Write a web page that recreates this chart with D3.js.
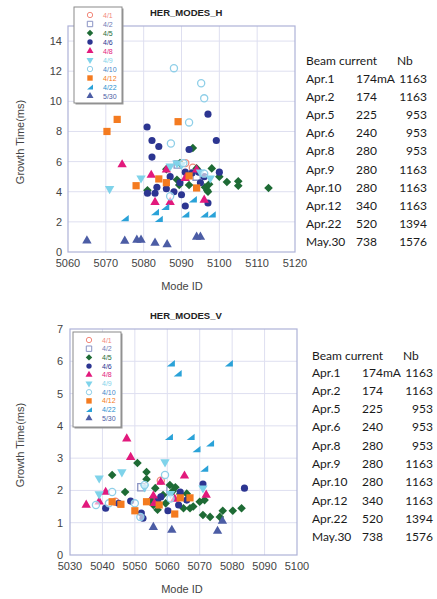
<!DOCTYPE html>
<html>
<head>
<meta charset="utf-8">
<script src="https://d3js.org/d3.v7.min.js"></script>
<style>
  body { margin: 0; background: #fff; }
  svg { display: block; }
</style>
</head>
<body>
<div id="chart"></div>
<script>
// series (legend order)
const seriesNames = ["4/1", "4/2", "4/5", "4/6", "4/8", "4/9", "4/10", "4/12", "4/22", "5/30"];

// HER_MODES_H : [mode id, growth time ms]
const H_0401 = [[5091, 5.9], [5093, 5.6]];
const H_0402 = [[5089, 5.8], [5094, 5.0]];
const H_0405 = [[5081, 4.1], [5086, 5.5], [5088.8, 4.8], [5089.4, 4.45], [5089.6, 5.9], [5092, 4.45], [5093, 6.9], [5094, 5.55], [5096.2, 4.3], [5096.8, 4.1], [5097.3, 4.5], [5097, 4.0], [5098, 5.55], [5100, 5.0], [5102, 4.65], [5105, 4.7], [5105, 4.4], [5113, 4.25]];
const H_0406 = [[5080.9, 8.3], [5082.2, 7.4], [5084, 7.0], [5082.2, 6.3], [5092, 6.8], [5097, 9.15], [5099.2, 7.4], [5094.6, 5.3], [5100, 5.3], [5081, 3.9], [5083, 3.9], [5083.5, 4.3], [5087, 5.0], [5086, 4.2], [5089.6, 4.6], [5090, 3.8], [5091, 3.05], [5097, 3.25], [5095, 4.6], [5096, 5.0], [5091, 5.3], [5088, 4.0], [5092.8, 5.25]];
const H_0408 = [[5074.3, 5.8], [5082, 5.1], [5083, 3.3], [5086, 5.45], [5087, 3.3], [5094, 5.45], [5096, 3.45], [5091, 4.9]];
const H_0409 = [[5071, 4.2], [5079.3, 4.9], [5088.8, 5.9], [5090, 5.8], [5087, 5.7], [5095, 5.3], [5097.6, 4.9]];
const H_0410 = [[5088, 12.2], [5095.2, 11.2], [5096, 10.2], [5092, 8.6], [5087.2, 7.2], [5090.5, 5.9], [5096, 5.2], [5087, 3.7]];
const H_0412 = [[5070.3, 8.0], [5073, 8.8], [5089.1, 8.65], [5078, 4.4], [5084, 4.85], [5086, 4.6], [5092, 5.05], [5094, 4.25]];
const H_0422 = [[5075, 2.25], [5083, 2.65], [5084, 2.2], [5085.7, 3.0], [5091, 2.5], [5093, 3.5], [5096, 2.5], [5098, 2.5]];
const H_0530 = [[5065, 0.75], [5075, 0.73], [5078.2, 0.8], [5079.3, 0.8], [5083, 0.6], [5086.2, 0.5], [5094, 1.0], [5095, 1.0]];

// HER_MODES_V
const V_0401 = [[5044, 1.65], [5058, 2.3]];
const V_0402 = [[5052, 2.1], [5061, 2.0]];
const V_0405 = [[5043, 2.48], [5047, 1.95], [5050.8, 2.85], [5053.6, 2.57], [5053.6, 2.35], [5056.3, 2.07], [5058.7, 1.86], [5055.7, 1.55], [5057, 1.4], [5060.8, 2.17], [5061.7, 1.98], [5062.5, 2.1], [5064, 1.89], [5065, 1.45], [5067, 1.45], [5068, 1.5], [5070, 1.65], [5071, 1.24], [5073.2, 1.18], [5076.2, 1.18], [5077.1, 1.37], [5080.2, 1.37], [5082.9, 1.45], [5066, 1.9], [5071.5, 1.7], [5055, 1.7], [5059.5, 1.6]];
const V_0406 = [[5041, 1.45], [5048.7, 1.67], [5052, 1.3], [5052.5, 1.14], [5057, 1.7], [5060.2, 1.37], [5064, 1.95], [5063.5, 1.55], [5071, 2.2], [5083.8, 2.07], [5045, 1.6], [5066, 1.7], [5058, 1.8]];
const V_0408 = [[5035, 1.55], [5039, 1.65], [5041, 1.95], [5047.5, 3.6], [5048.7, 3.03], [5055.7, 1.83], [5058, 2.26], [5062.3, 1.73], [5065.3, 2.45], [5072, 1.86], [5056, 1.6]];
const V_0409 = [[5039, 2.38], [5039, 1.89], [5046, 2.57], [5059.3, 2.88], [5053, 2.1], [5071, 2.07], [5061, 1.9]];
const V_0410 = [[5038, 1.55], [5042, 1.6], [5043, 1.95], [5050, 1.6], [5051.7, 1.18], [5053, 2.17], [5059.3, 2.48], [5061, 1.75]];
const V_0412 = [[5043, 1.65], [5045.7, 1.57], [5050, 1.37], [5053.6, 1.65], [5057.5, 1.55], [5062.3, 1.27], [5064, 1.77], [5067, 1.77]];
const V_0422 = [[5061.1, 5.94], [5063.2, 5.63], [5079, 5.94], [5060.5, 3.66], [5067.2, 3.66], [5069, 3.28], [5073.2, 3.46], [5071.4, 2.68]];
const V_0530 = [[5055.7, 0.86], [5061.4, 0.77], [5077, 1.05], [5075.5, 0.74]];

// axis ticks
const hXTicks = [5060, 5070, 5080, 5090, 5100, 5110, 5120];
const hYTicks = [0, 2, 4, 6, 8, 10, 12, 14];
const vXTicks = [5030, 5040, 5050, 5060, 5070, 5080, 5090, 5100];
const vYTicks = [0, 1, 2, 3, 4, 5, 6, 7];

// side table
const tableDates = ["Apr.1", "Apr.2", "Apr.5", "Apr.6", "Apr.8", "Apr.9", "Apr.10", "Apr.12", "Apr.22", "May.30"];
const tableCurrent = ["174mA", "174", "225", "240", "280", "280", "280", "340", "520", "738"];
const tableNb = ["1163", "1163", "953", "953", "953", "1163", "1163", "1163", "1394", "1576"];

// marker styles
const seriesColors = ["#f2897c", "#8a93c4", "#1e6b35", "#2c3591", "#e2197c", "#7fd3ea", "#8fcfe8", "#f47b20", "#2aa2d8", "#4c5da5"];
const labelColors = ["#f2897c", "#6f79b5", "#1e6b35", "#2c3591", "#e2197c", "#7fd3ea", "#3f86c8", "#f47b20", "#2a8fd0", "#4c5da5"];
const markerShape = ["circle", "square", "diamond", "circle", "triangle", "triangleDown", "circle", "square", "wedge", "triangle"];
const markerOpen = [true, true, false, false, false, false, true, false, false, false];

const width = 437, height = 599;
const svg = d3.select("#chart").append("svg")
    .attr("width", width)
    .attr("height", height);

function markerPath(i, k) {
    const shape = markerShape[i];
    if (shape === "wedge") {
        const s = 4 * k;
        return `M${-s},${s * 0.8}L${s},${s * 0.8}L${s},${-s * 0.8}Z`;
    }
    if (shape === "diamond") {
        const s = 4.3 * k;
        return `M0,${-s}L${s},0L0,${s}L${-s},0Z`;
    }
    const types = {
        circle: [d3.symbolCircle, 40],
        square: [d3.symbolSquare, 52],
        triangle: [d3.symbolTriangle, 38],
        triangleDown: [d3.symbolTriangle, 38]
    };
    const t = types[shape];
    return d3.symbol().type(t[0]).size(t[1] * k * k)();
}

function drawPanel({ title, left, right, top, bottom, xDomain, yDomain, xTicks, yTicks, series, legend, tableX, tableY, labelGap }) {
    const x = d3.scaleLinear().domain(xDomain).range([left, right]);
    const y = d3.scaleLinear().domain(yDomain).range([bottom, top]);
    const g = svg.append("g");

    // grid
    g.append("g").selectAll("line")
        .data(xTicks.slice(1, -1))
        .enter().append("line")
        .attr("x1", d => x(d)).attr("x2", d => x(d))
        .attr("y1", top).attr("y2", bottom)
        .attr("stroke", "#dedff0").attr("stroke-width", 1);
    g.append("g").selectAll("line")
        .data(yTicks.slice(1).filter(d => y(d) > top + 1))
        .enter().append("line")
        .attr("x1", left).attr("x2", right)
        .attr("y1", d => y(d)).attr("y2", d => y(d))
        .attr("stroke", "#dedff0").attr("stroke-width", 1);

    g.append("rect")
        .attr("x", left).attr("y", top)
        .attr("width", right - left).attr("height", bottom - top)
        .attr("fill", "none")
        .attr("stroke", "#aeb2d8").attr("stroke-width", 1.2);

    // tick labels
    g.append("g").selectAll("text")
        .data(xTicks)
        .enter().append("text")
        .attr("x", d => x(d))
        .attr("y", bottom + 15)
        .attr("text-anchor", "middle")
        .attr("font-family", "Liberation Sans, Arial, sans-serif")
        .attr("font-size", "11px")
        .attr("fill", "#444")
        .text(d => d);
    g.append("g").selectAll("text")
        .data(yTicks)
        .enter().append("text")
        .attr("x", left - labelGap)
        .attr("y", d => y(d) + 4)
        .attr("text-anchor", "end")
        .attr("font-family", "Liberation Sans, Arial, sans-serif")
        .attr("font-size", "11px")
        .attr("fill", "#444")
        .text(d => d);

    g.append("text")
        .attr("x", 182).attr("y", bottom + 38)
        .attr("text-anchor", "middle")
        .attr("font-family", "Liberation Sans, Arial, sans-serif")
        .attr("font-size", "11px")
        .attr("fill", "#444")
        .text("Mode ID");
    g.append("text")
        .attr("transform", `translate(24, ${(top + bottom) / 2 + 3}) rotate(-90)`)
        .attr("text-anchor", "middle")
        .attr("font-family", "Liberation Sans, Arial, sans-serif")
        .attr("font-size", "11px")
        .attr("fill", "#444")
        .text("Growth Time(ms)");
    g.append("text")
        .attr("x", 150).attr("y", top - 10)
        .attr("font-family", "Liberation Sans, Arial, sans-serif")
        .attr("font-size", "9.5px")
        .attr("font-weight", "bold")
        .attr("fill", "#222")
        .text(title);

    // points
    series.forEach((pts, i) => {
        g.append("g").selectAll("path")
            .data(pts)
            .enter().append("path")
            .attr("transform", d => `translate(${x(d[0])},${y(d[1])})${markerShape[i] === "triangleDown" ? " rotate(180)" : ""}`)
            .attr("d", markerPath(i, 1))
            .attr("fill", markerOpen[i] ? "#fff" : seriesColors[i])
            .attr("fill-opacity", markerOpen[i] ? 0.6 : 1)
            .attr("stroke", markerOpen[i] ? seriesColors[i] : "none")
            .attr("stroke-width", 1.3);
    });

    // legend
    const lg = g.append("g");
    lg.append("rect")
        .attr("x", legend.x + 1.5).attr("y", legend.y + 1.5)
        .attr("width", legend.w).attr("height", legend.h)
        .attr("fill", "#999");
    lg.append("rect")
        .attr("x", legend.x).attr("y", legend.y)
        .attr("width", legend.w).attr("height", legend.h)
        .attr("fill", "#fff")
        .attr("stroke", "#8a8a8a").attr("stroke-width", 1);
    seriesNames.forEach((name, i) => {
        const ry = legend.y + legend.first + i * legend.step;
        lg.append("path")
            .attr("transform", `translate(${legend.x + 16},${ry})${markerShape[i] === "triangleDown" ? " rotate(180)" : ""}`)
            .attr("d", markerPath(i, 0.75))
            .attr("fill", markerOpen[i] ? "#fff" : seriesColors[i])
            .attr("stroke", markerOpen[i] ? seriesColors[i] : "none")
            .attr("stroke-width", 1);
        lg.append("text")
            .attr("x", legend.x + 29).attr("y", ry + 2.5)
            .attr("font-family", "Liberation Sans, Arial, sans-serif")
            .attr("font-size", "7px")
            .attr("fill", labelColors[i])
            .text(name);
    });

    // beam table
    const tg = g.append("g")
        .attr("font-family", "Lato, Noto Sans, sans-serif")
        .attr("font-size", "12px")
        .attr("fill", "#1a1a1a");
    tg.append("text").attr("x", tableX).attr("y", tableY.header + 4.5).text("Beam current");
    tg.append("text").attr("x", tableX + 91).attr("y", tableY.header + 4.5).text("Nb");
    tableDates.forEach((dt, i) => {
        const ry = tableY.first + i * tableY.step + 4.5;
        tg.append("text").attr("x", tableX).attr("y", ry).text(dt);
        tg.append("text").attr("x", tableX + 50).attr("y", ry).text(tableCurrent[i]);
        tg.append("text").attr("x", tableX + 121).attr("y", ry)
            .attr("text-anchor", "end").text(tableNb[i]);
    });
}

drawPanel({
    title: "HER_MODES_H",
    left: 68, right: 295, top: 26, bottom: 252,
    xDomain: [5060, 5120], yDomain: [0, 15],
    xTicks: hXTicks, yTicks: hYTicks,
    series: [H_0401, H_0402, H_0405, H_0406, H_0408, H_0409, H_0410, H_0412, H_0422, H_0530],
    legend: { x: 74, y: 7, w: 48, h: 96, first: 8, step: 9 },
    tableX: 306,
    tableY: { header: 60, first: 78, step: 18.2 },
    labelGap: 6
});

drawPanel({
    title: "HER_MODES_V",
    left: 70, right: 297, top: 329, bottom: 555,
    xDomain: [5030, 5100], yDomain: [0, 7],
    xTicks: vXTicks, yTicks: vYTicks,
    series: [V_0401, V_0402, V_0405, V_0406, V_0408, V_0409, V_0410, V_0412, V_0422, V_0530],
    legend: { x: 73, y: 332, w: 48, h: 95, first: 8, step: 8.7 },
    tableX: 312,
    tableY: { header: 355, first: 372, step: 18.3 },
    labelGap: 7
});
</script>
</body>
</html>
